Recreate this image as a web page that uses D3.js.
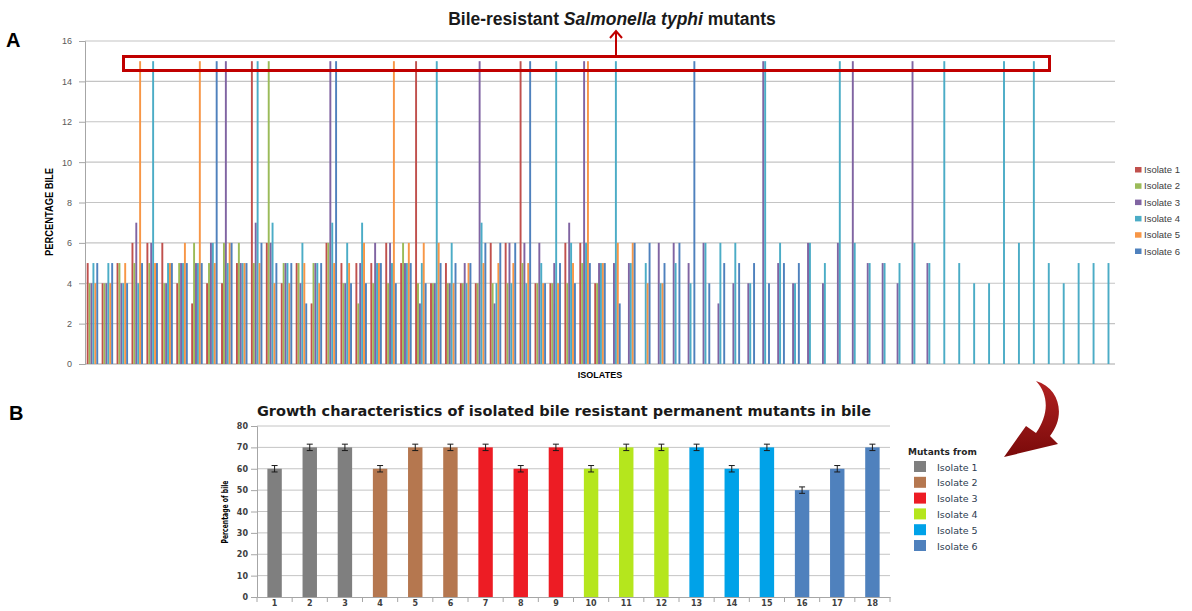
<!DOCTYPE html>
<html>
<head>
<meta charset="utf-8">
<script src="https://d3js.org/d3.v7.min.js"></script>
<style>
body { margin: 0; background: #fff; }
svg { display: block; }
</style>
</head>
<body>
<div id="fig"></div>
<script>
// ---- panel A data: 69 isolates, one column per bile-resistant series (null = no bar)
var isolates = d3.range(1, 70);
var seriesNames = ['Isolate 1', 'Isolate 2', 'Isolate 3', 'Isolate 4', 'Isolate 5', 'Isolate 6'];
var seriesColors = ['#C0504D', '#9BBB59', '#8064A2', '#4BACC6', '#F79646', '#4F81BD'];
var N = null;
var iso1 = [5,4,5,6,6,6,4,3,4,4,5,15,6,4,5,3,6,5,5,5,6,5,15,4,5,4,4,6,6,15,4,4,6,6,4,
            N,N,N,N,N,N,N,N,N,N,N,N,N,N,N,N,N,N,N,N,N,N,N,N,N,N,N,N,N,N,N,N,N,N];
var iso2 = [4,4,5,5,5,4,5,6,5,6,6,5,15,5,5,5,6,4,3,4,4,6,4,4,4,4,4,4,4,5,4,4,4,5,4,
            N,N,N,N,N,N,N,N,N,N,N,N,N,N,N,N,N,N,N,N,N,N,N,N,N,N,N,N,N,N,N,N,N,N];
var iso3 = [4,4,4,7,6,4,5,5,6,15,5,7,6,5,4,5,15,4,5,6,6,5,3,4,4,5,15,3,6,6,6,5,7,15,5,
            5,5,N,6,6,5,6,3,4,4,15,5,4,6,4,6,15,5,5,4,15,5,
            N,N,N,N,N,N,N,N,N,N,N,N];
var iso4 = [5,5,4,4,15,5,5,5,6,5,5,15,7,5,6,5,7,6,7,5,5,5,5,15,6,4,7,4,4,4,5,15,6,6,5,
            15,5,5,4,5,4,6,6,6,4,15,6,4,6,5,15,6,5,5,5,6,5,
            15,5,4,4,15,6,15,5,4,5,5,5];
var iso5 = [4,4,5,15,5,5,6,15,5,6,5,5,4,4,5,4,5,5,6,5,15,6,6,6,4,5,5,5,5,5,4,4,5,15,5,
            6,6,4,4,
            N,N,N,N,N,N,N,N,N,N,N,N,N,N,N,N,N,N,N,N,N,N,N,N,N,N,N,N,N,N];
var iso6 = [5,5,4,5,5,5,5,5,15,6,5,6,5,5,3,5,15,4,4,5,4,5,4,5,5,5,6,6,6,15,4,5,4,5,5,
            3,6,6,5,6,15,4,5,5,5,4,5,5,
            N,N,N,N,N,N,N,N,N,N,N,N,N,N,N,N,N,N,N,N,N];
var seriesValues = [iso1, iso2, iso3, iso4, iso5, iso6];
var yTicksA = [0, 2, 4, 6, 8, 10, 12, 14, 16];

// ---- panel B data: 18 permanent mutants
var mutants = ['1','2','3','4','5','6','7','8','9','10','11','12','13','14','15','16','17','18'];
var mutantSource = [0,0,0,1,1,1,2,2,2,3,3,3,4,4,4,5,5,5];
var growth = [60,70,70,60,70,70,70,60,70,60,70,70,70,60,70,50,60,70];
var growthErr = [1.5,1.5,1.5,1.5,1.5,1.5,1.5,1.5,1.5,1.5,1.5,1.5,1.5,1.5,1.5,1.5,1.5,1.5];
var mutantColors = ['#7F7F7F', '#B5774F', '#ED1C24', '#B5E61D', '#00A2E8', '#4F81BD'];
var yTicksB = [0, 10, 20, 30, 40, 50, 60, 70, 80];

var svg = d3.select('#fig').append('svg')
    .attr('width', 1192)
    .attr('height', 611)
    .style('font-family', '"Liberation Sans", Arial, sans-serif');

// ================= panel A =================
var xA = d3.scaleBand()
    .domain(isolates)
    .range([85, 1115])
    .paddingInner(0.23)
    .paddingOuter(0.115);
var xSer = d3.scaleBand()
    .domain(d3.range(6))
    .range([0, xA.bandwidth()]);
var yA = d3.scaleLinear()
    .domain([0, 16])
    .range([364, 41]);

var A = svg.append('g');

// gridlines
A.selectAll('.gridA')
    .data(yTicksA.filter(d => d > 0))
    .enter().append('line')
    .attr('x1', 85).attr('x2', 1115)
    .attr('y1', d => yA(d)).attr('y2', d => yA(d))
    .attr('stroke', '#c4c4c4')
    .attr('stroke-width', 1.2);

var yAxisA = d3.axisLeft(yA).tickValues(yTicksA).tickSize(6).tickPadding(7).tickFormat(d3.format('d'));
A.append('g')
    .attr('transform', 'translate(85,0)')
    .call(yAxisA)
    .call(g => g.select('.domain').attr('stroke', '#a6a6a6'))
    .call(g => g.selectAll('.tick line').attr('stroke', '#a6a6a6'))
    .call(g => g.selectAll('text').attr('fill', '#595959').style('font-size', '9px')
        .style('font-family', '"Liberation Sans", Arial, sans-serif'));

A.append('line')
    .attr('x1', 85).attr('x2', 1115)
    .attr('y1', yA(0)).attr('y2', yA(0))
    .attr('stroke', '#a6a6a6');

// bars
seriesValues.forEach(function(vals, s) {
    A.append('g')
        .selectAll('rect')
        .data(vals.map((v, i) => ({iso: isolates[i], v: v})).filter(d => d.v !== null))
        .enter().append('rect')
        .attr('x', d => xA(d.iso) + xSer(s))
        .attr('width', xSer.bandwidth())
        .attr('y', d => yA(d.v))
        .attr('height', d => yA(0) - yA(d.v))
        .attr('fill', seriesColors[s]);
});

// highlight box + arrow
A.append('rect')
    .attr('x', 123.5).attr('y', 56.5)
    .attr('width', 926).attr('height', 14)
    .attr('fill', 'none')
    .attr('stroke', '#C00000')
    .attr('stroke-width', 3);
A.append('line')
    .attr('x1', 616).attr('x2', 616)
    .attr('y1', 55).attr('y2', 31)
    .attr('stroke', '#C00000').attr('stroke-width', 2);
A.append('path')
    .attr('d', 'M610,38 L616,31 L622,38')
    .attr('fill', 'none')
    .attr('stroke', '#C00000').attr('stroke-width', 2);

// titles
var tA = A.append('text')
    .attr('x', 612).attr('y', 25)
    .attr('text-anchor', 'middle')
    .style('font-size', '17.5px')
    .style('font-weight', 'bold')
    .attr('fill', '#1a1a1a');
tA.append('tspan').text('Bile-resistant ');
tA.append('tspan').style('font-style', 'italic').text('Salmonella typhi');
tA.append('tspan').text(' mutants');

A.append('text')
    .attr('transform', 'translate(53,212) rotate(-90)')
    .attr('text-anchor', 'middle')
    .attr('textLength', 88).attr('lengthAdjust', 'spacingAndGlyphs')
    .style('font-size', '10px').style('font-weight', 'bold')
    .text('PERCENTAGE BILE');

A.append('text')
    .attr('x', 600).attr('y', 378)
    .attr('text-anchor', 'middle')
    .style('font-size', '9px').style('font-weight', 'bold')
    .text('ISOLATES');

A.append('text')
    .attr('x', 6).attr('y', 47)
    .style('font-size', '20px').style('font-weight', 'bold')
    .text('A');

// legend A
var legA = A.append('g')
    .selectAll('g')
    .data(seriesNames)
    .enter().append('g')
    .attr('transform', (d, i) => 'translate(1135,' + (170 + i * 16.3) + ')');
legA.append('rect')
    .attr('x', 0).attr('y', -3)
    .attr('width', 6.5).attr('height', 5.5)
    .attr('fill', (d, i) => seriesColors[i]);
legA.append('text')
    .attr('x', 9).attr('y', 3)
    .style('font-size', '9.5px')
    .attr('fill', '#404040')
    .text(d => d);

// ================= panel B =================
var xB = d3.scaleBand()
    .domain(mutants)
    .range([257, 890])
    .paddingInner(0.59)
    .paddingOuter(0.295);
var yB = d3.scaleLinear()
    .domain([0, 80])
    .range([597, 426]);

var B = svg.append('g').style('font-family', '"DejaVu Sans", Verdana, sans-serif');

B.selectAll('.gridB')
    .data(yTicksB.filter(d => d > 0))
    .enter().append('line')
    .attr('x1', 257).attr('x2', 890)
    .attr('y1', d => yB(d)).attr('y2', d => yB(d))
    .attr('stroke', '#c4c4c4');

var yAxisB = d3.axisLeft(yB).tickValues(yTicksB).tickSize(6).tickPadding(3);
B.append('g')
    .attr('transform', 'translate(257,0)')
    .call(yAxisB)
    .call(g => g.select('.domain').attr('stroke', '#a6a6a6'))
    .call(g => g.selectAll('.tick line').attr('stroke', '#a6a6a6'))
    .call(g => g.selectAll('text').attr('fill', '#404040')
        .style('font-size', '8px').style('font-weight', 'bold')
        .style('font-family', '"DejaVu Sans", Verdana, sans-serif'));

var xAxisB = d3.axisBottom(xB).tickSize(0).tickPadding(3.5);
B.append('g')
    .attr('transform', 'translate(0,597)')
    .call(xAxisB)
    .call(g => g.select('.domain').attr('stroke', '#a6a6a6'))
    .call(g => g.selectAll('text').attr('fill', '#404040')
        .style('font-size', '8px').style('font-weight', 'bold')
        .style('font-family', '"DejaVu Sans", Verdana, sans-serif'));

// category boundary ticks
B.selectAll('.tickB')
    .data(d3.range(mutants.length + 1))
    .enter().append('line')
    .attr('x1', d => 257 + d * xB.step()).attr('x2', d => 257 + d * xB.step())
    .attr('y1', 597).attr('y2', 602)
    .attr('stroke', '#a6a6a6');

// bars
B.selectAll('.barB')
    .data(mutants)
    .enter().append('rect')
    .attr('x', d => xB(d))
    .attr('width', xB.bandwidth())
    .attr('y', (d, i) => yB(growth[i]))
    .attr('height', (d, i) => yB(0) - yB(growth[i]))
    .attr('fill', (d, i) => mutantColors[mutantSource[i]]);

// error bars
var eb = B.selectAll('.errB')
    .data(mutants)
    .enter().append('g')
    .attr('stroke', '#1a1a1a').attr('stroke-width', 1);
eb.append('line')
    .attr('x1', d => xB(d) + xB.bandwidth() / 2).attr('x2', d => xB(d) + xB.bandwidth() / 2)
    .attr('y1', (d, i) => yB(growth[i] + growthErr[i]))
    .attr('y2', (d, i) => yB(growth[i] - growthErr[i]));
eb.append('line')
    .attr('x1', d => xB(d) + xB.bandwidth() / 2 - 3).attr('x2', d => xB(d) + xB.bandwidth() / 2 + 3)
    .attr('y1', (d, i) => yB(growth[i] + growthErr[i]))
    .attr('y2', (d, i) => yB(growth[i] + growthErr[i]));
eb.append('line')
    .attr('x1', d => xB(d) + xB.bandwidth() / 2 - 3).attr('x2', d => xB(d) + xB.bandwidth() / 2 + 3)
    .attr('y1', (d, i) => yB(growth[i] - growthErr[i]))
    .attr('y2', (d, i) => yB(growth[i] - growthErr[i]));

B.append('text')
    .attr('x', 564).attr('y', 416)
    .attr('text-anchor', 'middle')
    .style('font-size', '14.5px').style('font-weight', 'bold')
    .attr('fill', '#1a1a1a')
    .text('Growth characteristics of isolated bile resistant permanent mutants in bile');

B.append('text')
    .attr('transform', 'translate(228,512) rotate(-90)')
    .attr('text-anchor', 'middle')
    .attr('textLength', 63).attr('lengthAdjust', 'spacingAndGlyphs')
    .style('font-size', '8px').style('font-weight', 'bold')
    .text('Percentage of bile');

svg.append('text')
    .attr('x', 9).attr('y', 420)
    .style('font-size', '20px').style('font-weight', 'bold')
    .text('B');

// legend B
B.append('text')
    .attr('x', 908).attr('y', 455)
    .style('font-size', '9px').style('font-weight', 'bold')
    .attr('fill', '#262626')
    .text('Mutants from');
var legB = B.append('g')
    .selectAll('g')
    .data(seriesNames)
    .enter().append('g')
    .attr('transform', (d, i) => 'translate(914,' + (467 + i * 15.8) + ')');
legB.append('rect')
    .attr('x', 0).attr('y', -6)
    .attr('width', 12).attr('height', 11)
    .attr('fill', (d, i) => mutantColors[i]);
legB.append('text')
    .attr('x', 23).attr('y', 3.5)
    .style('font-size', '9.5px')
    .attr('fill', '#2e3d50')
    .text(d => d);

// curved arrow linking panel A to panel B
var grad = svg.append('defs').append('linearGradient')
    .attr('id', 'arrowGrad')
    .attr('x1', '0').attr('y1', '0').attr('x2', '0').attr('y2', '1');
grad.append('stop').attr('offset', '0').attr('stop-color', '#b22222');
grad.append('stop').attr('offset', '1').attr('stop-color', '#7a0a0a');
svg.append('path')
    .attr('d', 'M1036,381 C1060,388 1066,416 1050,436 L1058,444 L1004,457 L1026,426 L1036,433 ' +
               'C1048,416 1050,396 1036,381 Z')
    .attr('fill', 'url(#arrowGrad)');
</script>
</body>
</html>
